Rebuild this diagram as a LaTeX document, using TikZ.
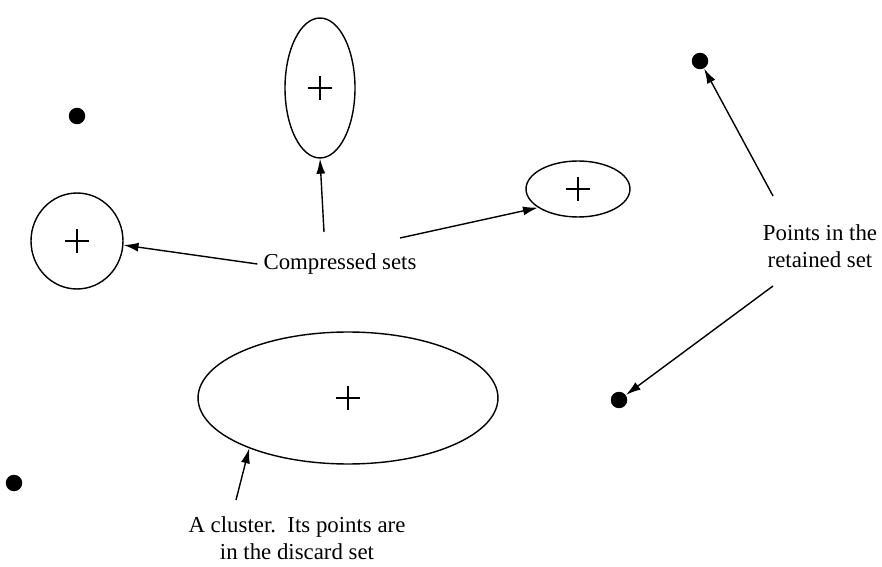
\documentclass[tikz,border=0pt]{standalone}
\usepackage{fontspec}
\setmainfont{Liberation Serif}
\usetikzlibrary{shapes.geometric,arrows.meta}

\tikzset{
    dot/.style={circle, fill=black, inner sep=0pt, minimum size=0.33cm},
    set/.style={ellipse, draw, line width=0.8pt, inner sep=0pt},
    lbl/.style={align=center, font=\fontsize{13}{15.6}\selectfont},
    pointer/.style={-{Latex[length=0.3cm,width=0.18cm]}, line width=0.8pt},
}

\begin{document}
\begin{tikzpicture}[x=0.02cm, y=-0.02cm]
    \useasboundingbox (0,0) rectangle (882,567);

    % einzelne Punkte
    \node[dot] (d1) at (77,116) {};
    \node[dot] (d2) at (700,61) {};
    \node[dot] (d3) at (14,483) {};
    \node[dot] (d4) at (619,400) {};

    % komprimierte Mengen und Cluster
    \node[set, minimum width=1.4cm, minimum height=2.8cm] (tall) at (320,88) {};
    \node[set, minimum width=2.08cm, minimum height=1.12cm] (small) at (578,189) {};
    \node[set, minimum width=1.84cm, minimum height=1.92cm] (round) at (77,241) {};
    \node[set, minimum width=6cm, minimum height=2.64cm] (big) at (348,398) {};

    \foreach \c in {tall, small, round, big} {
        \draw[line width=0.6pt] (\c.center) +(-12,0) -- +(12,0);
        \draw[line width=0.6pt] (\c.center) +(0,-12) -- +(0,12);
    }

    % Beschriftungen
    \node[lbl] (cs) at (340,264) {Compressed sets};
    \node[lbl] (rs) at (820,246) {Points in the\\retained set};
    \node[lbl] (cl) at (297,538) {A cluster.\ \ Its points are\\in the discard set};

    \coordinate (cs-up) at (324,232);
    \coordinate (cs-right) at (400,238);
    \coordinate (rs-up) at (773,196);
    \coordinate (rs-down) at (773,286);
    \coordinate (cl-up) at (236,500);

    % Pfeile
    \draw[pointer] (cs.west) -- (round.355);
    \draw[pointer] (cs-up) -- (tall.south);
    \draw[pointer] (cs-right) -- (small.205);
    \draw[pointer] (rs-up) -- (d2);
    \draw[pointer] (rs-down) -- (d4);
    \draw[pointer] (cl-up) -- (big.207);
\end{tikzpicture}
\end{document}
